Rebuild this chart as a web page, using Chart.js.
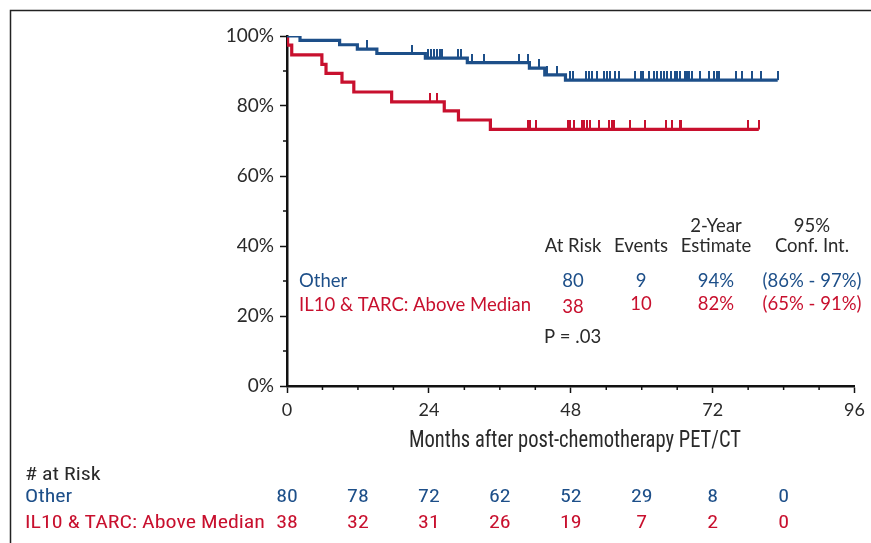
<!DOCTYPE html>
<html><head><meta charset="utf-8">
<script src="https://cdn.jsdelivr.net/npm/chart.js@4/dist/chart.umd.min.js"></script>
<style>html,body{margin:0;padding:0;background:#fff;}canvas{display:block;}</style>
</head><body>
<canvas id="c" width="871" height="543"></canvas>
<script>
// ---- Data ----
const otherMonths = [0, 2.2, 8.9, 11.9, 15.2, 23.4, 30.5, 41.0, 43.6, 47.1, 83.0];
const otherSurv   = [100, 98.75, 97.5, 96.25, 95.0, 93.7, 92.4, 90.8, 88.9, 87.4, 87.4];
const otherCensor = [13.5, 21.2, 23.8, 24.3, 24.8, 25.3, 25.8, 26.2, 28.9, 29.5, 31.3, 33.4, 39.2, 40.7, 42.7, 43.9, 45.7,
  47.9, 48.3, 50.5, 51.0, 51.6, 52.4, 53.6, 54.1, 54.7, 55.5, 56.1, 58.9, 59.8, 60.3, 61.2, 62.0, 62.6, 63.2, 63.7, 64.3,
  64.9, 65.7, 66.0, 66.5, 67.4, 67.7, 68.0, 68.5, 69.9, 71.3, 72.2, 72.8, 73.0, 75.9, 77.0, 78.7, 80.1, 83.0];

const ilMonths = [0, 0.1, 0.8, 5.9, 6.6, 9.3, 11.3, 17.7, 26.6, 29.0, 34.4, 79.8];
const ilSurv   = [100, 97.4, 94.6, 91.9, 89.3, 86.8, 84.0, 81.2, 78.6, 76.0, 73.3, 73.3];
const ilCensor = [24.2, 25.3, 40.7, 41.1, 42.2, 47.5, 47.9, 48.6, 49.9, 50.3, 50.7, 51.3, 52.7, 54.4, 54.9, 55.3,
  58.1, 60.5, 64.1, 65.1, 66.5, 66.7, 78.0, 79.8];

const riskMonths = [0, 12, 24, 36, 48, 60, 72, 84];
const riskOther  = [80, 78, 72, 62, 52, 29, 8, 0];
const riskIL     = [38, 32, 31, 26, 19, 7, 2, 0];

const groupNames = ['Other', 'IL10 & TARC: Above Median'];
const tableHeads = ['At Risk', 'Events', 'Estimate', 'Conf. Int.'];
const tableHeads2 = ['', '', '2-Year', '95%'];
const rowOther = ['80', '9', '94%', '(86% - 97%)'];
const rowIL    = ['38', '10', '82%', '(65% - 91%)'];
const pText = 'P = .03';
const xTitle = 'Months after post-chemotherapy PET/CT';

const BLUE = '#1d4f89';
const RED = '#c8102e';
const INK = '#2a2a2a';
const FONT = 'Lato, "Open Sans", sans-serif';
const NARROW = '"Liberation Sans Narrow", "Roboto Condensed", "DejaVu Sans Condensed", Roboto, sans-serif';

function levelAt(ms, ss, t) {
  let v = ss[0];
  for (let i = 0; i < ms.length; i++) { if (ms[i] <= t) v = ss[i]; }
  return v;
}
function tickImg(color) {
  const c = document.createElement('canvas');
  c.width = 2; c.height = 18;
  const g = c.getContext('2d');
  g.fillStyle = color; g.fillRect(0, 0, 2, 9);
  return c;
}

const toXY = (ms, ss) => ms.map((m, i) => ({x: m, y: ss[i]}));
const cens = (cs, ms, ss) => cs.map(t => ({x: t, y: levelAt(ms, ss, t)}));

// draw text squeezed horizontally to mimic a condensed face
function narrowText(ctx, text, x, y, sx, align) {
  ctx.save();
  ctx.translate(x, y);
  ctx.scale(sx, 1);
  ctx.textAlign = align;
  ctx.fillText(text, 0, 0);
  ctx.restore();
}

const decor = {
  id: 'decor',
  afterDraw(chart) {
    const ctx = chart.ctx;
    const xs = chart.scales.x, ys = chart.scales.y;
    ctx.save();
    // frame
    ctx.strokeStyle = '#222'; ctx.lineWidth = 1.5;
    ctx.beginPath(); ctx.moveTo(10.5, 543); ctx.lineTo(10.5, 10.5); ctx.lineTo(871, 10.5); ctx.stroke();
    // minor ticks
    ctx.strokeStyle = '#111'; ctx.lineWidth = 1.5;
    for (let m = 6; m <= 96; m += 6) {
      if (m % 24 === 0) continue;
      const px = xs.getPixelForValue(m);
      ctx.beginPath(); ctx.moveTo(px, ys.bottom); ctx.lineTo(px, ys.bottom + 4); ctx.stroke();
    }
    for (let v = 10; v <= 90; v += 20) {
      const py = ys.getPixelForValue(v);
      ctx.beginPath(); ctx.moveTo(xs.left, py); ctx.lineTo(xs.left - 4, py); ctx.stroke();
    }
    // table
    ctx.font = '18.5px ' + FONT;
    ctx.textBaseline = 'middle';
    const cols = [573, 641, 716, 812];
    ctx.fillStyle = INK; ctx.textAlign = 'center';
    tableHeads2.forEach((t, i) => ctx.fillText(t, cols[i], 226));
    tableHeads.forEach((t, i) => ctx.fillText(t, cols[i], 246));
    ctx.fillStyle = BLUE;
    rowOther.forEach((t, i) => ctx.fillText(t, cols[i], 281));
    ctx.fillStyle = RED;
    rowIL.forEach((t, i) => ctx.fillText(t, cols[i], i === 0 ? 307 : 304));
    ctx.textAlign = 'left';
    ctx.fillStyle = BLUE; ctx.fillText(groupNames[0], 299, 281);
    ctx.fillStyle = RED; ctx.fillText(groupNames[1], 299, 305);
    ctx.fillStyle = INK; ctx.fillText(pText, 544, 337);
    // x title
    ctx.font = '24px ' + NARROW;
    ctx.fillStyle = INK;
    let w = ctx.measureText(xTitle).width;
    narrowText(ctx, xTitle, 575, 441, 332 / w, 'center');
    // at risk table
    ctx.font = '19px ' + NARROW;
    w = ctx.measureText(groupNames[1]).width;
    const sx = 240 / w;
    ctx.fillStyle = INK; narrowText(ctx, '# at Risk', 25, 475, sx, 'left');
    ctx.fillStyle = BLUE; narrowText(ctx, groupNames[0], 25, 497, sx, 'left');
    ctx.fillStyle = RED; narrowText(ctx, groupNames[1], 25, 523, sx, 'left');
    riskMonths.forEach((m, i) => {
      const px = xs.getPixelForValue(m);
      ctx.fillStyle = BLUE; narrowText(ctx, String(riskOther[i]), px, 497, sx, 'center');
      ctx.fillStyle = RED; narrowText(ctx, String(riskIL[i]), px, 523, sx, 'center');
    });
    ctx.restore();
  }
};

new Chart(document.getElementById('c'), {
  type: 'scatter',
  data: {
    datasets: [
      {label: groupNames[0], data: toXY(otherMonths, otherSurv), showLine: true, stepped: true,
       borderColor: BLUE, borderWidth: 3.2, pointRadius: 0, order: 2},
      {label: groupNames[1], data: toXY(ilMonths, ilSurv), showLine: true, stepped: true,
       borderColor: RED, borderWidth: 3.2, pointRadius: 0, order: 2},
      {label: 'c1', data: cens(otherCensor, otherMonths, otherSurv), pointStyle: tickImg(BLUE), pointRadius: 9, order: 1},
      {label: 'c2', data: cens(ilCensor, ilMonths, ilSurv), pointStyle: tickImg(RED), pointRadius: 9, order: 1}
    ]
  },
  options: {
    responsive: false, animation: false,
    layout: {padding: {left: 0, top: 36, right: 16, bottom: 0}},
    plugins: {legend: {display: false}, tooltip: {enabled: false}},
    scales: {
      x: {type: 'linear', min: 0, max: 96,
        afterFit(s) { s.height = 543 - 36 - 350; },
        ticks: {stepSize: 24, color: INK, font: {family: FONT, size: 18}, padding: 6, maxRotation: 0},
        grid: {drawOnChartArea: false, drawTicks: true, tickLength: 7, tickColor: '#111', tickWidth: 1.5},
        border: {display: true, color: '#111', width: 2.5}},
      y: {type: 'linear', min: 0, max: 100,
        afterFit(s) { s.width = 287; },
        ticks: {stepSize: 20, color: INK, font: {family: FONT, size: 19}, padding: 6,
          callback: v => v + '%'},
        grid: {drawOnChartArea: false, drawTicks: true, tickLength: 7, tickColor: '#111', tickWidth: 1.5},
        border: {display: true, color: '#111', width: 2.5}}
    }
  },
  plugins: [decor]
});
</script>
</body></html>
